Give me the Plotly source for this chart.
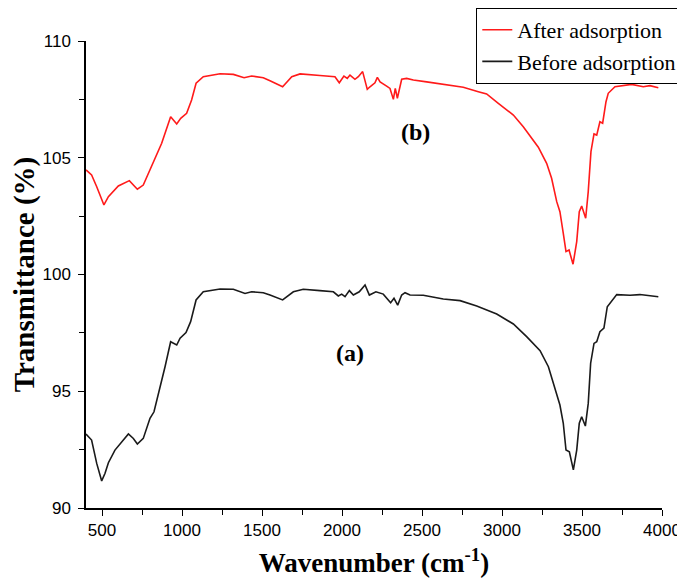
import plotly.graph_objects as go

# FTIR spectra
wn_before = [400, 435, 467, 498, 519, 540, 581, 623, 665, 696, 721, 758, 800, 825, 862, 894,
             929, 967, 988, 1025, 1054, 1088, 1133, 1238, 1321, 1394, 1435, 1508, 1550, 1590,
             1629, 1696, 1758, 1862, 1946, 1977, 1998, 2019, 2046, 2071, 2108, 2144, 2171,
             2212, 2258, 2304, 2325, 2348, 2373, 2394, 2425, 2508, 2633, 2738, 2842, 2967,
             3071, 3154, 3238, 3290, 3325, 3362, 3383, 3400, 3421, 3446, 3467, 3483, 3498,
             3521, 3539, 3554, 3575, 3592, 3612, 3637, 3658, 3685, 3717, 3800, 3862, 3977]
t_before = [93.17, 92.91, 91.91, 91.16, 91.49, 91.94, 92.48, 92.84, 93.17, 92.98, 92.74, 92.98,
            93.84, 94.12, 95.13, 96.05, 97.12, 96.98, 97.27, 97.51, 97.98, 98.91, 99.26, 99.38,
            99.37, 99.19, 99.26, 99.22, 99.12, 99.02, 98.91, 99.26, 99.37, 99.31, 99.26, 99.08,
            99.16, 99.05, 99.31, 99.12, 99.26, 99.55, 99.12, 99.26, 99.16, 98.79, 98.98, 98.69,
            99.12, 99.22, 99.12, 99.11, 98.95, 98.88, 98.65, 98.31, 97.88, 97.34, 96.74, 96.05,
            95.27, 94.41, 93.63, 92.48, 92.41, 91.63, 92.48, 93.63, 93.91, 93.51, 94.48, 96.20,
            97.05, 97.12, 97.55, 97.70, 98.62, 98.84, 99.14, 99.11, 99.14, 99.05]

wn_after = [400, 435, 467, 498, 512, 540, 602, 671, 721, 758, 800, 831, 873, 929, 967, 992,
            1029, 1060, 1088, 1133, 1238, 1321, 1388, 1435, 1508, 1550, 1590, 1629, 1686, 1738,
            1862, 1956, 1983, 2012, 2033, 2050, 2081, 2102, 2129, 2158, 2175, 2206, 2221, 2238,
            2279, 2300, 2321, 2333, 2346, 2373, 2404, 2446, 2529, 2654, 2758, 2852, 2904, 2977,
            3071, 3133, 3227, 3279, 3310, 3342, 3362, 3383, 3400, 3419, 3444, 3467, 3483, 3498,
            3523, 3539, 3556, 3575, 3592, 3612, 3629, 3650, 3664, 3706, 3758, 3810, 3883, 3925,
            3977]
t_after = [104.48, 104.26, 103.76, 103.19, 102.98, 103.33, 103.79, 104.02, 103.65, 103.83,
           104.48, 104.90, 105.62, 106.76, 106.45, 106.69, 106.90, 107.47, 108.19, 108.47,
           108.60, 108.57, 108.43, 108.50, 108.43, 108.30, 108.18, 108.04, 108.47, 108.59,
           108.52, 108.47, 108.21, 108.50, 108.40, 108.54, 108.36, 108.47, 108.69, 107.93,
           108.04, 108.21, 108.44, 108.25, 108.07, 107.97, 107.50, 107.97, 107.55, 108.36,
           108.40, 108.33, 108.25, 108.14, 108.02, 107.83, 107.73, 107.33, 106.83, 106.33,
           105.45, 104.76, 104.12, 103.12, 102.69, 101.76, 100.98, 101.05, 100.44, 101.41,
           102.69, 102.93, 102.41, 103.55, 105.26, 106.02, 105.97, 106.54, 106.48, 107.40,
           107.76, 108.04, 108.09, 108.14, 108.04, 108.09, 108.00]

fig = go.Figure()
fig.add_trace(go.Scatter(x=wn_after, y=t_after, mode='lines', name='After adsorption',
                         line=dict(color='#ff1a1a', width=1.6)))
fig.add_trace(go.Scatter(x=wn_before, y=t_before, mode='lines', name='Before adsorption',
                         line=dict(color='#1a1a1a', width=1.6)))

# curve labels
fig.add_annotation(x=2462, y=106.1, text='<b>(b)</b>', showarrow=False,
                   font=dict(family='Liberation Serif', size=24, color='black'))
fig.add_annotation(x=2050, y=96.64, text='<b>(a)</b>', showarrow=False,
                   font=dict(family='Liberation Serif', size=24, color='black'))

axis_common = dict(
    showline=True, linecolor='black', linewidth=1.5, mirror=False,
    showgrid=False, zeroline=False,
    ticks='outside', ticklen=6, tickwidth=1.3, tickcolor='black',
    tickfont=dict(family='Liberation Sans', size=17, color='black'),
)

fig.update_xaxes(
    range=[400, 4000], tick0=500, dtick=500,
    minor=dict(ticks='outside', dtick=250, tick0=250, ticklen=5, tickcolor='black', tickwidth=1.3),
    title=dict(text='<b>Wavenumber (cm<sup>-1</sup>)</b>', standoff=14,
               font=dict(family='Liberation Serif', size=27, color='black')),
    **axis_common
)
fig.update_yaxes(
    range=[90, 110], tick0=90, dtick=5, ticklabelstandoff=4,
    minor=dict(ticks='outside', dtick=2.5, ticklen=5, tickcolor='black', tickwidth=1.3),
    title=dict(text='<b>Transmittance (%)</b>', standoff=4,
               font=dict(family='Liberation Serif', size=29, color='black')),
    **axis_common
)

# the page body adds an 8px offset, so the figure is 8px smaller than the window
fig.update_layout(
    width=677, height=579,
    margin=dict(l=78, r=23, t=33, b=79, autoexpand=False),
    plot_bgcolor='white', paper_bgcolor='white',
    legend=dict(
        xref='container', yref='container',
        x=0.996, xanchor='right', y=1.0, yanchor='top',
        bordercolor='black', borderwidth=1, bgcolor='white',
        font=dict(family='Liberation Serif', size=22, color='black'),
        tracegroupgap=0,
    ),
)

fig.write_html("out.html")
